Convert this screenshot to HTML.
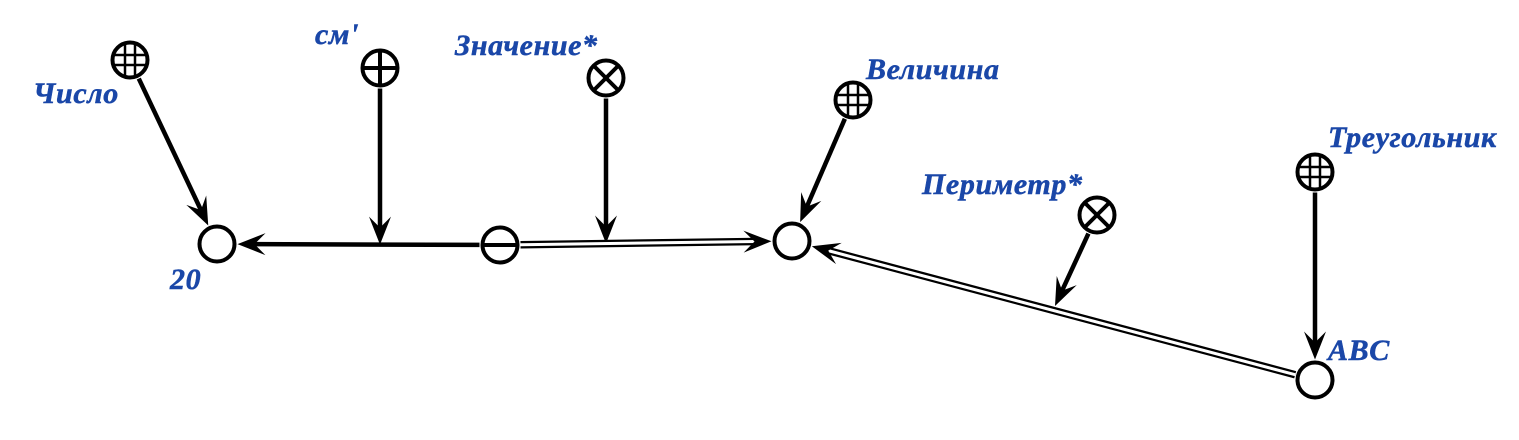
<!DOCTYPE html>
<html><head><meta charset="utf-8"><style>
html,body{margin:0;padding:0;background:#fff;width:1519px;height:440px;overflow:hidden}
text{font-family:"Liberation Serif","DejaVu Serif",serif;font-style:italic;font-weight:bold;fill:#1a47a8;stroke:#1a47a8;stroke-width:0.5px;font-size:30px;letter-spacing:0.6px}
</style></head><body>
<svg id="s" width="1519" height="440" viewBox="0 0 1519 440">
<g id="edges"></g><g id="nodes"></g><g id="labels">
<text x="33" y="103">Число</text>
<text x="315" y="44">см'</text>
<text x="455" y="55">Значение*</text>
<text x="866" y="79">Величина</text>
<text x="922" y="194">Периметр*</text>
<text x="1328" y="147">Треугольник</text>
<text x="170" y="289">20</text>
<text x="1328" y="360">ABC</text>
</g></svg>
<script>
const NS="http://www.w3.org/2000/svg";
const nodeIds=["chislo","sm","znach","velich","perim","treug","n20","minus","center","abc"];
const nodeX=[130,380,606,853,1097,1315,217,500,792,1315];
const nodeY=[60,68,78,100,215,172,244,245,241,380];
const nodeKind=["grid","plus","cross","grid","cross","grid","empty","minus","empty","empty"];
const edgeFrom=["chislo","sm","znach","velich","perim","treug","minus","minus","abc"];
const edgeTo=["n20","@minus-n20","@minus-center","center","@abc-center","abc","n20","center","center"];
const edgeDouble=[0,0,0,0,0,0,0,1,1];
const R=17.5;
function P(id){const i=nodeIds.indexOf(id);return [nodeX[i],nodeY[i]];}
function mk(t,a,p){const e=document.createElementNS(NS,t);for(const k in a)e.setAttribute(k,a[k]);p.appendChild(e);return e;}
const eg=document.getElementById('edges'),ng=document.getElementById('nodes');
function endpoints(f,t){
  let a=P(f),b,tr=R+3;
  if(t[0]=='@'){const [p,q]=t.slice(1).split('-');const A=P(p),B=P(q);
    const u=(a[0]-A[0])/(B[0]-A[0]);b=[a[0],A[1]+u*(B[1]-A[1])];
    if(f=='perim'){b=[1055,306];}
    tr=0;}
  else b=P(t);
  const dx=b[0]-a[0],dy=b[1]-a[1],L=Math.hypot(dx,dy),ux=dx/L,uy=dy/L;
  return [a[0]+ux*(R+3),a[1]+uy*(R+3),b[0]-ux*tr,b[1]-uy*tr,ux,uy];
}
edgeFrom.forEach((f,i)=>{
  const [x1,y1,x2,y2,ux,uy]=endpoints(f,edgeTo[i]);
  const g=mk('g',{},eg);
  
  
  const bx=x2-ux*16,by=y2-uy*16;
  if(edgeDouble[i]){mk('line',{x1,y1,x2:bx,y2:by,stroke:'#000','stroke-width':7.5},g);mk('line',{x1,y1,x2:bx,y2:by,stroke:'#fff','stroke-width':3},g);}
  else mk('line',{x1,y1,x2:bx,y2:by,stroke:'#000','stroke-width':4.5},g);
  const px=-uy,py=ux,bk=28,w=11,nk=17;
  const pts=[[x2,y2],[x2-ux*bk+px*w,y2-uy*bk+py*w],[x2-ux*nk,y2-uy*nk],[x2-ux*bk-px*w,y2-uy*bk-py*w]];
  mk('polygon',{points:pts.map(p=>p.join(',')).join(' '),fill:'#000'},g);
});
nodeIds.forEach((id,i)=>{
  const x=nodeX[i],y=nodeY[i],k=nodeKind[i];
  const g=mk('g',{},ng);
  
  
  mk('circle',{cx:x,cy:y,r:R,fill:'#fff',stroke:'#000','stroke-width':4},g);
  const L=(a,b,c,d,w)=>mk('line',{x1:a,y1:b,x2:c,y2:d,stroke:'#000','stroke-width':w},g);
  if(k=='plus'){L(x-R,y,x+R,y,4);L(x,y-R,x,y+R,4);}
  if(k=='minus'){L(x-R,y,x+R,y,4);}
  if(k=='cross'){const d=R*0.707;L(x-d,y-d,x+d,y+d,4);L(x-d,y+d,x+d,y-d,4);}
  if(k=='grid'){[-5,5].forEach(o=>{const h=Math.sqrt(R*R-o*o);L(x+o,y-h,x+o,y+h,2.5);L(x-h,y+o,x+h,y+o,2.5);});}
});
</script>
</body></html>
